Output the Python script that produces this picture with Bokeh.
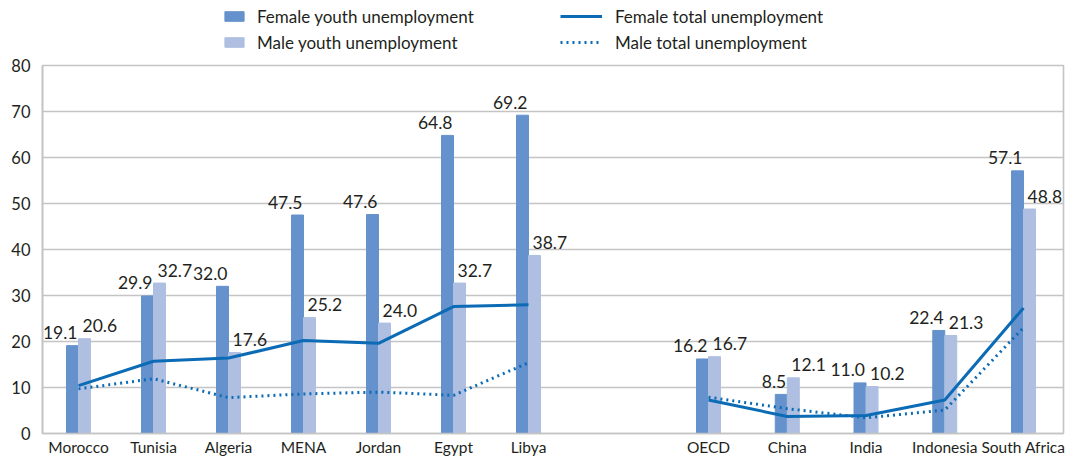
import numpy as np
from bokeh.plotting import figure
from bokeh.layouts import column
from bokeh.models import Range1d, FixedTicker, Legend, LegendItem, ColumnDataSource
from bokeh.core.properties import value
from bokeh.embed import file_html
from bokeh.resources import INLINE

# Youth and total unemployment rates (%) by sex
region_names = ["Morocco", "Tunisia", "Algeria", "MENA", "Jordan", "Egypt", "Libya"]
compare_names = ["OECD", "China", "India", "Indonesia", "South Africa"]

female_youth = [19.1, 29.9, 32.0, 47.5, 47.6, 64.8, 69.2,
                16.2, 8.5, 11.0, 22.4, 57.1]
male_youth = [20.6, 32.7, 17.6, 25.2, 24.0, 32.7, 38.7,
              16.7, 12.1, 10.2, 21.3, 48.8]
female_total = [10.4, 15.7, 16.4, 20.2, 19.6, 27.6, 28.0,
                7.3, 3.7, 3.9, 7.3, 27.3]
male_total = [9.7, 11.9, 7.8, 8.6, 9.0, 8.3, 15.4,
              7.9, 5.4, 3.4, 5.1, 23.0]

y_ticks = [0, 10, 20, 30, 40, 50, 60, 70, 80]

FEMALE_BAR = "#6592CC"
MALE_BAR = "#AEBFE2"
LINE = "#0B6BB5"
GRID = "#C4C4C4"
TEXT = "#231F20"
FONT = "Lato"

# category slots: the regional group, a gap, then the comparison group
n_left = len(region_names)
left_pos = np.arange(n_left, dtype=float)
right_pos = np.round(8.4 + 1.05 * np.arange(len(compare_names)), 2)
positions = [float(v) for v in np.concatenate([left_pos, right_pos])]
names = region_names + compare_names

bar_w = 0.16
src = ColumnDataSource(dict(
    x=positions,
    xf=[v - bar_w / 2 for v in positions],
    xm=[v + bar_w / 2 for v in positions],
    fy=female_youth,
    my=male_youth,
    fy_lab=[f"{v:.1f}" for v in female_youth],
    my_lab=[f"{v:.1f}" for v in male_youth],
))

p = figure(width=1065, height=403, output_backend="svg", toolbar_location=None,
           x_range=Range1d(-0.48, 13.133), y_range=Range1d(0, 80),
           min_border_left=42, min_border_right=2, min_border_top=10,
           min_border_bottom=25)

p.vbar(x="xf", top="fy", width=bar_w, color=FEMALE_BAR, source=src)
p.vbar(x="xm", top="my", width=bar_w, color=MALE_BAR, source=src)

# total unemployment lines, broken between the two groups
line_x = positions[:n_left] + [np.nan] + positions[n_left:]
ft_y = female_total[:n_left] + [np.nan] + female_total[n_left:]
mt_y = male_total[:n_left] + [np.nan] + male_total[n_left:]
p.line(line_x, ft_y, line_color=LINE, line_width=3)
p.line(line_x, mt_y, line_color=LINE, line_width=3, line_dash="2 4")

p.text(x="x", y="fy", text="fy_lab", source=src, text_align="right",
       text_baseline="alphabetic", x_offset=-1, y_offset=-13,
       text_font=value(FONT), text_font_size="17.5px", text_color=TEXT)
p.text(x="x", y="my", text="my_lab", source=src, text_align="left",
       text_baseline="alphabetic", x_offset=4, y_offset=-13,
       text_font=value(FONT), text_font_size="17.5px", text_color=TEXT)

# axes
p.xaxis.ticker = FixedTicker(ticks=positions)
p.xaxis.major_label_overrides = {pos: name for pos, name in zip(positions, names)}
p.yaxis.ticker = FixedTicker(ticks=y_ticks)
for ax in (p.xaxis[0], p.yaxis[0]):
    ax.axis_line_color = GRID
    ax.axis_line_width = 1.6
    ax.major_tick_out = 0
    ax.major_tick_in = 0
    ax.minor_tick_out = 0
    ax.minor_tick_in = 0
    ax.major_label_text_font = FONT
    ax.major_label_text_color = TEXT
p.xaxis.major_label_standoff = 4
p.xaxis.major_label_text_font_size = "15.5px"
p.yaxis.major_label_text_font_size = "16.5px"
p.yaxis.major_label_standoff = 12

p.xgrid.grid_line_color = None
p.ygrid.grid_line_color = GRID
p.ygrid.grid_line_width = 1.6
p.outline_line_color = GRID
p.outline_line_width = 1.6

# legend strip above the chart; its proxy glyphs sit outside the visible range
key = figure(width=1065, height=55, output_backend="svg", toolbar_location=None,
             x_range=Range1d(0, 1), y_range=Range1d(0, 1),
             x_axis_type=None, y_axis_type=None, min_border=0,
             outline_line_color=None)
key.xgrid.grid_line_color = None
key.ygrid.grid_line_color = None
kf = key.vbar(x=[-5], top=[-5], width=0.1, color=FEMALE_BAR)
km = key.vbar(x=[-5], top=[-5], width=0.1, color=MALE_BAR)
kfl = key.line(x=[-5, -4], y=[-5, -5], line_color=LINE, line_width=3)
kml = key.line(x=[-5, -4], y=[-5, -5], line_color=LINE, line_width=3,
               line_dash="2 4")


def make_legend(items, glyph_w, standoff, loc):
    return Legend(items=items, location=loc, orientation="vertical",
                  glyph_width=glyph_w, glyph_height=12, label_standoff=standoff,
                  spacing=4, padding=0, margin=0, border_line_color=None,
                  background_fill_alpha=0, label_text_font=FONT,
                  label_text_font_size="17px", label_text_color=TEXT,
                  label_height=22)


# the strip's frame lines up with the chart frame, which starts 42px in
key.add_layout(make_legend([LegendItem(label="Female youth unemployment", renderers=[kf]),
                            LegendItem(label="Male youth unemployment", renderers=[km])],
                           24, 11, (180, 2)))
key.add_layout(make_legend([LegendItem(label="Female total unemployment", renderers=[kfl]),
                            LegendItem(label="Male total unemployment", renderers=[kml])],
                           42, 13, (518, 2)))

layout = column(key, p, spacing=0)
open("out.html", "w").write(file_html(layout, INLINE))
